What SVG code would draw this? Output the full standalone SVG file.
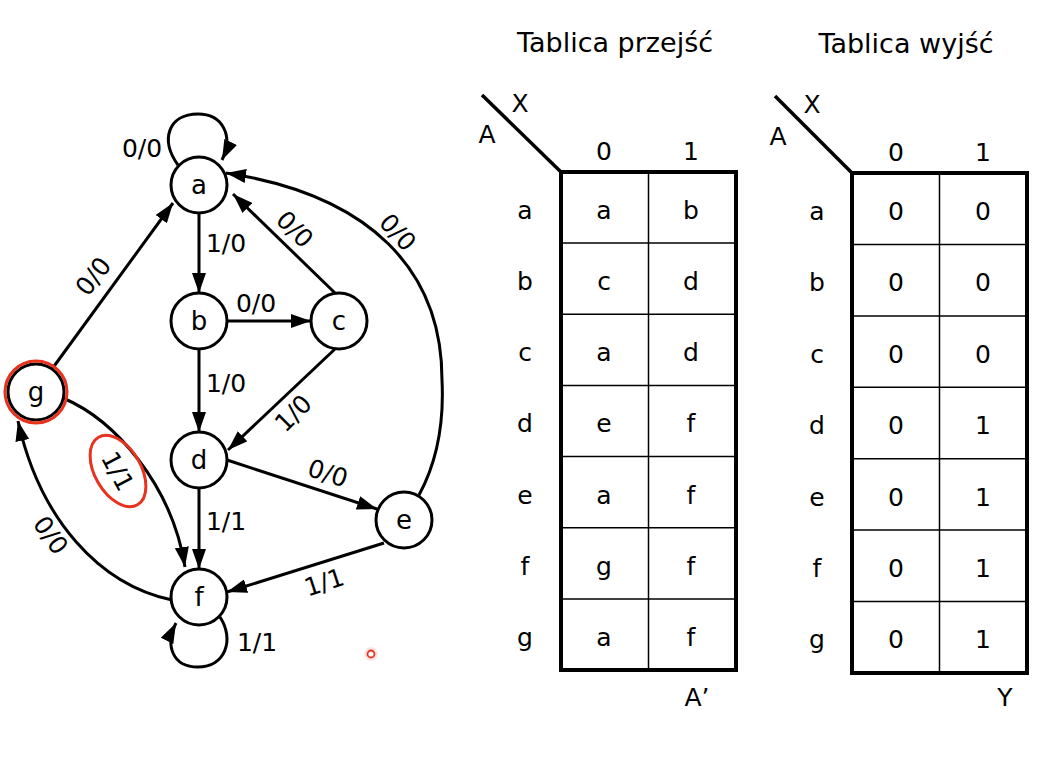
<svg xmlns="http://www.w3.org/2000/svg" width="1052" height="762" viewBox="0 0 1052 762">
<defs>
<marker id="arr" viewBox="0 0 20 14" refX="20" refY="7" markerWidth="20" markerHeight="14" markerUnits="userSpaceOnUse" orient="auto"><path d="M0,0 L20,7 L0,14 z" fill="#000"/></marker>
</defs>
<style>
text{font-family:"DejaVu Sans","Verdana",sans-serif;fill:#000;}
.lbl{font-size:25px;text-anchor:middle;}
.node circle{fill:#fff;stroke:#000;stroke-width:3;}
.node text{font-size:26px;text-anchor:middle;}
.edge{fill:none;stroke:#000;stroke-width:3;marker-end:url(#arr);}
.tt{font-size:27px;text-anchor:middle;}
.tc{font-size:25px;text-anchor:middle;}
.outer{fill:none;stroke:#000;stroke-width:4;}
.inner{stroke:#000;stroke-width:1.5;}
.diag{stroke:#000;stroke-width:3.5;}
.red{fill:none;stroke:#e8321e;stroke-width:3;}
</style>
<rect width="1052" height="762" fill="#fff"/>

<g id="connectors">
<path class="edge" d="M178,165 C160,140 168,114 198,114 C222,114 234,135 222,160"/>
<path class="edge" d="M199,213 L199,293"/>
<path class="edge" d="M227,321 L311,321"/>
<path class="edge" d="M335,293 L233,194"/>
<path class="edge" d="M419,495 C438,460 444,420 442,380 C442,270 370,195 226,173"/>
<path class="edge" d="M52,369 L173,203"/>
<path class="edge" d="M199,349 L199,432"/>
<path class="edge" d="M335,349 L228,450"/>
<path class="edge" d="M227,460 L377,509"/>
<path class="edge" d="M199,488 L199,569"/>
<path class="edge" d="M384,543 L227,592"/>
<path class="edge" d="M63,398 C115,420 172,485 185,567"/>
<path class="edge" d="M172,600 C100,585 40,520 18,421"/>
<path class="edge" d="M220,617 C235,640 225,667 198,667 C172,667 165,645 176,623"/>
</g>

<g id="edge-labels">
<text class="lbl" x="142" y="157">0/0</text>
<text class="lbl" x="226" y="252">1/0</text>
<text class="lbl" x="256" y="312">0/0</text>
<text class="lbl" transform="translate(295,229) rotate(45)" y="9">0/0</text>
<text class="lbl" transform="translate(398,232) rotate(47)" y="9">0/0</text>
<text class="lbl" transform="translate(93,276) rotate(-52)" y="9">0/0</text>
<text class="lbl" x="226" y="392">1/0</text>
<text class="lbl" transform="translate(293,413) rotate(-45)" y="9">1/0</text>
<text class="lbl" transform="translate(118,471) rotate(62)" y="9">1/1</text>
<text class="lbl" transform="translate(51,535) rotate(55)" y="9">0/0</text>
<text class="lbl" transform="translate(328,473) rotate(18)" y="9">0/0</text>
<text class="lbl" x="226" y="530">1/1</text>
<text class="lbl" transform="translate(324,582) rotate(-18)" y="9">1/1</text>
<text class="lbl" x="257" y="651">1/1</text>
</g>

<g id="node-a" class="node"><circle cx="199" cy="185" r="28"/><text x="199" y="194">a</text></g>
<g id="node-b" class="node"><circle cx="199" cy="321" r="28"/><text x="199" y="330">b</text></g>
<g id="node-c" class="node"><circle cx="339" cy="321" r="28"/><text x="339" y="330">c</text></g>
<g id="node-d" class="node"><circle cx="199" cy="460" r="28"/><text x="199" y="469">d</text></g>
<g id="node-e" class="node"><circle cx="404" cy="520" r="28"/><text x="404" y="529">e</text></g>
<g id="node-f" class="node"><circle cx="199" cy="597" r="28"/><text x="199" y="606">f</text></g>
<g id="node-g" class="node"><circle cx="36" cy="392" r="28"/><text x="36" y="401">g</text></g>

<g id="highlights">
<circle class="red" cx="36" cy="392" r="31"/>
<ellipse class="red" cx="118" cy="471" rx="39" ry="23" transform="rotate(60 118 471)"/>
<circle cx="371" cy="654" r="7" fill="#e8321e" fill-opacity="0.12"/>
<circle cx="371" cy="654" r="3.5" fill="#fff" stroke="#e8321e" stroke-width="1.8"/>
</g>

<g id="table-transitions">
<text class="tt" x="615" y="52">Tablica przejść</text>
<line class="diag" x1="482" y1="95" x2="561" y2="172"/>
<text class="tc" x="520" y="112">X</text>
<text class="tc" x="487" y="143">A</text>
<text class="tc" x="604" y="160">0</text>
<text class="tc" x="691" y="160">1</text>
<rect class="outer" x="561" y="172" width="175" height="498"/>
<line class="inner" x1="648.5" y1="172" x2="648.5" y2="670"/>
<line class="inner" x1="561" y1="243.1" x2="736" y2="243.1"/>
<line class="inner" x1="561" y1="314.3" x2="736" y2="314.3"/>
<line class="inner" x1="561" y1="385.4" x2="736" y2="385.4"/>
<line class="inner" x1="561" y1="456.6" x2="736" y2="456.6"/>
<line class="inner" x1="561" y1="527.7" x2="736" y2="527.7"/>
<line class="inner" x1="561" y1="598.9" x2="736" y2="598.9"/>
<text class="tc" x="525" y="219">a</text><text class="tc" x="604" y="219">a</text><text class="tc" x="691" y="219">b</text>
<text class="tc" x="525" y="290">b</text><text class="tc" x="604" y="290">c</text><text class="tc" x="691" y="290">d</text>
<text class="tc" x="525" y="361">c</text><text class="tc" x="604" y="361">a</text><text class="tc" x="691" y="361">d</text>
<text class="tc" x="525" y="432">d</text><text class="tc" x="604" y="432">e</text><text class="tc" x="691" y="432">f</text>
<text class="tc" x="525" y="504">e</text><text class="tc" x="604" y="504">a</text><text class="tc" x="691" y="504">f</text>
<text class="tc" x="525" y="575">f</text><text class="tc" x="604" y="575">g</text><text class="tc" x="691" y="575">f</text>
<text class="tc" x="525" y="646">g</text><text class="tc" x="604" y="646">a</text><text class="tc" x="691" y="646">f</text>
<text class="tc" x="697" y="706">A’</text>
</g>

<g id="table-outputs">
<text class="tt" x="906" y="53">Tablica wyjść</text>
<line class="diag" x1="775" y1="96" x2="852" y2="173"/>
<text class="tc" x="812" y="113">X</text>
<text class="tc" x="778" y="145">A</text>
<text class="tc" x="896" y="161">0</text>
<text class="tc" x="983" y="161">1</text>
<rect class="outer" x="852" y="173" width="175" height="500"/>
<line class="inner" x1="939.5" y1="173" x2="939.5" y2="673"/>
<line class="inner" x1="852" y1="244.4" x2="1027" y2="244.4"/>
<line class="inner" x1="852" y1="315.9" x2="1027" y2="315.9"/>
<line class="inner" x1="852" y1="387.3" x2="1027" y2="387.3"/>
<line class="inner" x1="852" y1="458.7" x2="1027" y2="458.7"/>
<line class="inner" x1="852" y1="530.1" x2="1027" y2="530.1"/>
<line class="inner" x1="852" y1="601.6" x2="1027" y2="601.6"/>
<text class="tc" x="817" y="220">a</text><text class="tc" x="896" y="220">0</text><text class="tc" x="983" y="220">0</text>
<text class="tc" x="817" y="291">b</text><text class="tc" x="896" y="291">0</text><text class="tc" x="983" y="291">0</text>
<text class="tc" x="817" y="363">c</text><text class="tc" x="896" y="363">0</text><text class="tc" x="983" y="363">0</text>
<text class="tc" x="817" y="434">d</text><text class="tc" x="896" y="434">0</text><text class="tc" x="983" y="434">1</text>
<text class="tc" x="817" y="506">e</text><text class="tc" x="896" y="506">0</text><text class="tc" x="983" y="506">1</text>
<text class="tc" x="817" y="577">f</text><text class="tc" x="896" y="577">0</text><text class="tc" x="983" y="577">1</text>
<text class="tc" x="817" y="648">g</text><text class="tc" x="896" y="648">0</text><text class="tc" x="983" y="648">1</text>
<text class="tc" x="1005" y="706">Y</text>
</g>
</svg>
